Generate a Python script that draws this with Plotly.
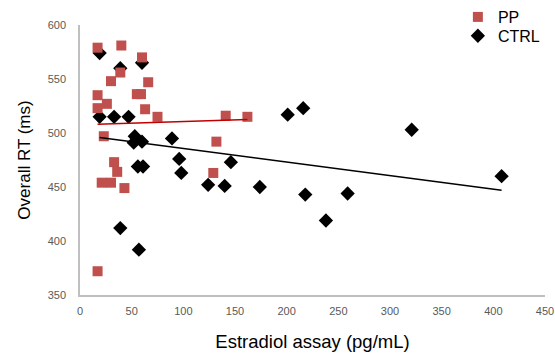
import numpy as np
import plotly.graph_objects as go

# PP group (red squares)
pp_x = [17, 40, 60, 39, 30, 66, 17, 55, 59, 26, 17, 63, 75, 141, 162, 23, 132, 33, 36, 129, 21, 30, 43, 17]
pp_y = [579, 581, 570, 556, 548, 547, 535, 536, 536, 527, 523, 522, 515, 516, 515, 497, 492, 473, 464, 463, 454, 454, 449, 372]

# CTRL group (black diamonds)
ctrl_x = [19, 39, 60, 19, 33, 47, 53, 52, 60, 89, 96, 146, 56, 61, 98, 124, 140, 174, 39, 57, 201, 216, 321, 408, 218, 259, 238]
ctrl_y = [574, 560, 565, 515, 515, 515, 497, 491, 492, 495, 476, 473, 469, 469, 463, 452, 451, 450, 412, 392, 517, 523, 503, 460, 443, 444, 419]

x_ticks = [0, 50, 100, 150, 200, 250, 300, 350, 400, 450]
y_ticks = [350, 400, 450, 500, 550, 600]

RED = "#C0504D"
BLACK = "#000000"

def fit_line(xs, ys):
    xs = np.asarray(xs, float)
    ys = np.asarray(ys, float)
    m, b = np.polyfit(xs, ys, 1)
    xx = np.array([xs.min(), xs.max()])
    return xx, m * xx + b

fig = go.Figure()
fig.add_trace(go.Scatter(x=ctrl_x, y=ctrl_y, mode="markers", name="CTRL", legend="legend2",
                         marker=dict(symbol="diamond", size=11, color=BLACK)))
fig.add_trace(go.Scatter(x=pp_x, y=pp_y, mode="markers", name="PP", legend="legend",
                         marker=dict(symbol="square", size=10, color=RED)))

lx, ly = fit_line(pp_x, pp_y)
fig.add_trace(go.Scatter(x=lx, y=ly, mode="lines", showlegend=False,
                         line=dict(color="#C00000", width=1.5), hoverinfo="skip"))
lx, ly = fit_line(ctrl_x, ctrl_y)
fig.add_trace(go.Scatter(x=lx, y=ly, mode="lines", showlegend=False,
                         line=dict(color=BLACK, width=1.5), hoverinfo="skip"))

axis_common = dict(showgrid=False, zeroline=False, showline=True, linecolor="#BFBFBF",
                   linewidth=1.5, ticks="", automargin=False)
tick_font = dict(family="Liberation Sans, Arial", size=11, color="#595959")

legend_common = dict(xref="container", yref="container", xanchor="left", yanchor="top",
                     bgcolor="rgba(0,0,0,0)", font=dict(size=16), itemsizing="trace")

fig.update_layout(
    width=555, height=356,
    margin=dict(l=80, r=10, t=25, b=61, autoexpand=False),
    paper_bgcolor="white", plot_bgcolor="white",
    font=dict(family="Liberation Sans, Arial", color="#000000"),
    xaxis=dict(range=[0, 450], tickvals=x_ticks, tickfont=tick_font, ticklabelstandoff=5,
               title=dict(text="Estradiol assay (pg/mL)", font=dict(size=18.5), standoff=19),
               **axis_common),
    yaxis=dict(range=[350, 600], tickvals=y_ticks, tickfont=tick_font, ticklabelstandoff=10,
               title=dict(text="Overall RT (ms)", font=dict(size=17), standoff=13),
               **axis_common),
    legend=dict(x=0.825, y=1.0, **legend_common),
    legend2=dict(x=0.825, y=0.947, **legend_common),
)

fig.write_html("out.html", config={"displayModeBar": False},
               post_script="document.body.style.margin='0';")
